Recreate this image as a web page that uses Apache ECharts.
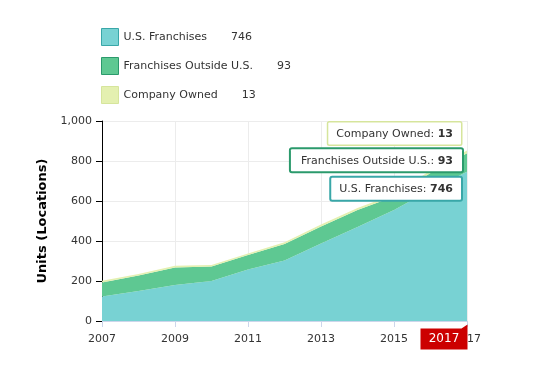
<!DOCTYPE html>
<html>
<head>
<meta charset="utf-8">
<script src="https://cdn.jsdelivr.net/npm/echarts@6/dist/echarts.min.js"></script>
<style>
html,body{margin:0;padding:0;background:#fff;}
#chart{width:541px;height:366px;}
</style>
</head>
<body>
<div id="chart"></div>
<script>
const years = ['2007', '2008', '2009', '2010', '2011', '2012', '2013', '2014', '2015', '2016', '2017'];
const usFranchises = [122, 150, 180, 200, 258, 303, 388, 470, 555, 655, 746];
const outsideUS = [71, 77, 88, 72, 72, 82, 84, 85, 68, 85, 93];
const companyOwned = [8, 8, 8, 8, 8, 9, 10, 10, 11, 12, 13];
const seriesNames = ['U.S. Franchises', 'Franchises Outside U.S.', 'Company Owned'];
const yTicks = [0, 200, 400, 600, 800, 1000];

const FONT = 'DejaVu Sans';
const fills = ['#78d2d3', '#5ec892', '#e4f0b0'];
const borders = ['#39a7a8', '#2b9a6c', '#d6e59c'];
const valuesBy = [usFranchises, outsideUS, companyOwned];
const lastIdx = years.length - 1;
const latest = {};
seriesNames.forEach((n, i) => latest[n] = valuesBy[i][lastIdx]);

const labelOffsets = [[-1, 17], [0, 7], [-1, -17]];

function mkSeries(i) {
  const vals = valuesBy[i];
  const data = vals.map((v, k) => {
    if (k !== lastIdx) return v;
    return {
      value: v,
      label: {
        show: true,
        position: 'left',
        distance: 5,
        offset: labelOffsets[i],
        backgroundColor: '#fff',
        borderColor: borders[i],
        borderWidth: i === 2 ? 1.5 : 2,
        borderRadius: 1,
        padding: i === 1 ? [6, 9, 5, 10] : [6, 8, 5, 8],
        fontFamily: FONT,
        fontSize: 11,
        color: '#333',
        formatter: () => '{n|' + seriesNames[i] + ': }{b|' + v + '}',
        rich: {
          n: { fontFamily: FONT, fontSize: 11, color: '#333' },
          b: { fontFamily: FONT, fontSize: 11, color: '#333', fontWeight: 'bold' }
        }
      }
    };
  });
  const s = {
    name: seriesNames[i],
    type: 'line',
    stack: 'units',
    data: data,
    symbol: 'circle',
    symbolSize: 0,
    showSymbol: true,
    lineStyle: { width: 0 },
    areaStyle: { color: fills[i], opacity: 1 },
    itemStyle: { color: fills[i] },
    emphasis: { disabled: true },
    z: 2
  };
  if (i === 0) {
    s.markPoint = {
      symbol: 'path://M0 4 L41 4 L47 0 L47 25 L0 25 Z',
      symbolSize: [47, 25],
      symbolOffset: [-23, 16],
      itemStyle: { color: '#cc0000' },
      label: {
        show: true,
        color: '#fff',
        fontFamily: FONT,
        fontSize: 12,
        offset: [0, 2],
        formatter: years[lastIdx]
      },
      data: [{ coord: [years[lastIdx], 0] }],
      z: 10
    };
  }
  return s;
}

const chart = echarts.init(document.getElementById('chart'), null, { renderer: 'canvas' });
chart.setOption({
  animation: false,
  backgroundColor: '#fff',
  textStyle: { fontFamily: FONT },
  legend: {
    orient: 'vertical',
    left: 101,
    top: 28,
    padding: 0,
    itemWidth: 17,
    itemHeight: 17,
    itemGap: 11,
    icon: 'rect',
    selectedMode: false,
    data: seriesNames.map((n, i) => ({ name: n, itemStyle: { color: fills[i], borderColor: borders[i], borderWidth: 1 } })),
    formatter: (name) => '{n|' + name + '}{v|' + latest[name] + '}',
    textStyle: {
      rich: {
        n: { fontFamily: FONT, fontSize: 11, color: '#333' },
        v: { fontFamily: FONT, fontSize: 11, color: '#333', padding: [0, 0, 0, 24] }
      }
    }
  },
  grid: { left: 102, right: 74, top: 121, bottom: 45 },
  xAxis: {
    type: 'category',
    data: years,
    boundaryGap: false,
    axisLine: { show: true, lineStyle: { color: '#ccd6eb', width: 1 } },
    axisTick: { show: true, length: 6, interval: 1, lineStyle: { color: '#ccd6eb' } },
    axisLabel: { fontFamily: FONT, fontSize: 11, color: '#333', margin: 13, interval: 1, showMaxLabel: true },
    splitLine: { show: true, interval: 1, lineStyle: { color: '#ececec', width: 1 } }
  },
  yAxis: {
    type: 'value',
    min: yTicks[0],
    max: yTicks[yTicks.length - 1],
    interval: 200,
    name: 'Units (Locations)',
    nameLocation: 'middle',
    nameGap: 50,
    nameTextStyle: { fontFamily: FONT, fontSize: 13, fontWeight: 'bold', color: '#000' },
    axisLine: { show: true, lineStyle: { color: '#000', width: 1 } },
    axisTick: { show: true, length: 6, lineStyle: { color: '#000' } },
    axisLabel: {
      fontFamily: FONT, fontSize: 11, color: '#333', margin: 10,
      formatter: v => v.toLocaleString('en-US')
    },
    splitLine: { show: true, lineStyle: { color: '#ececec', width: 1 } }
  },
  series: [0, 1, 2].map(mkSeries)
});
</script>
</body>
</html>
